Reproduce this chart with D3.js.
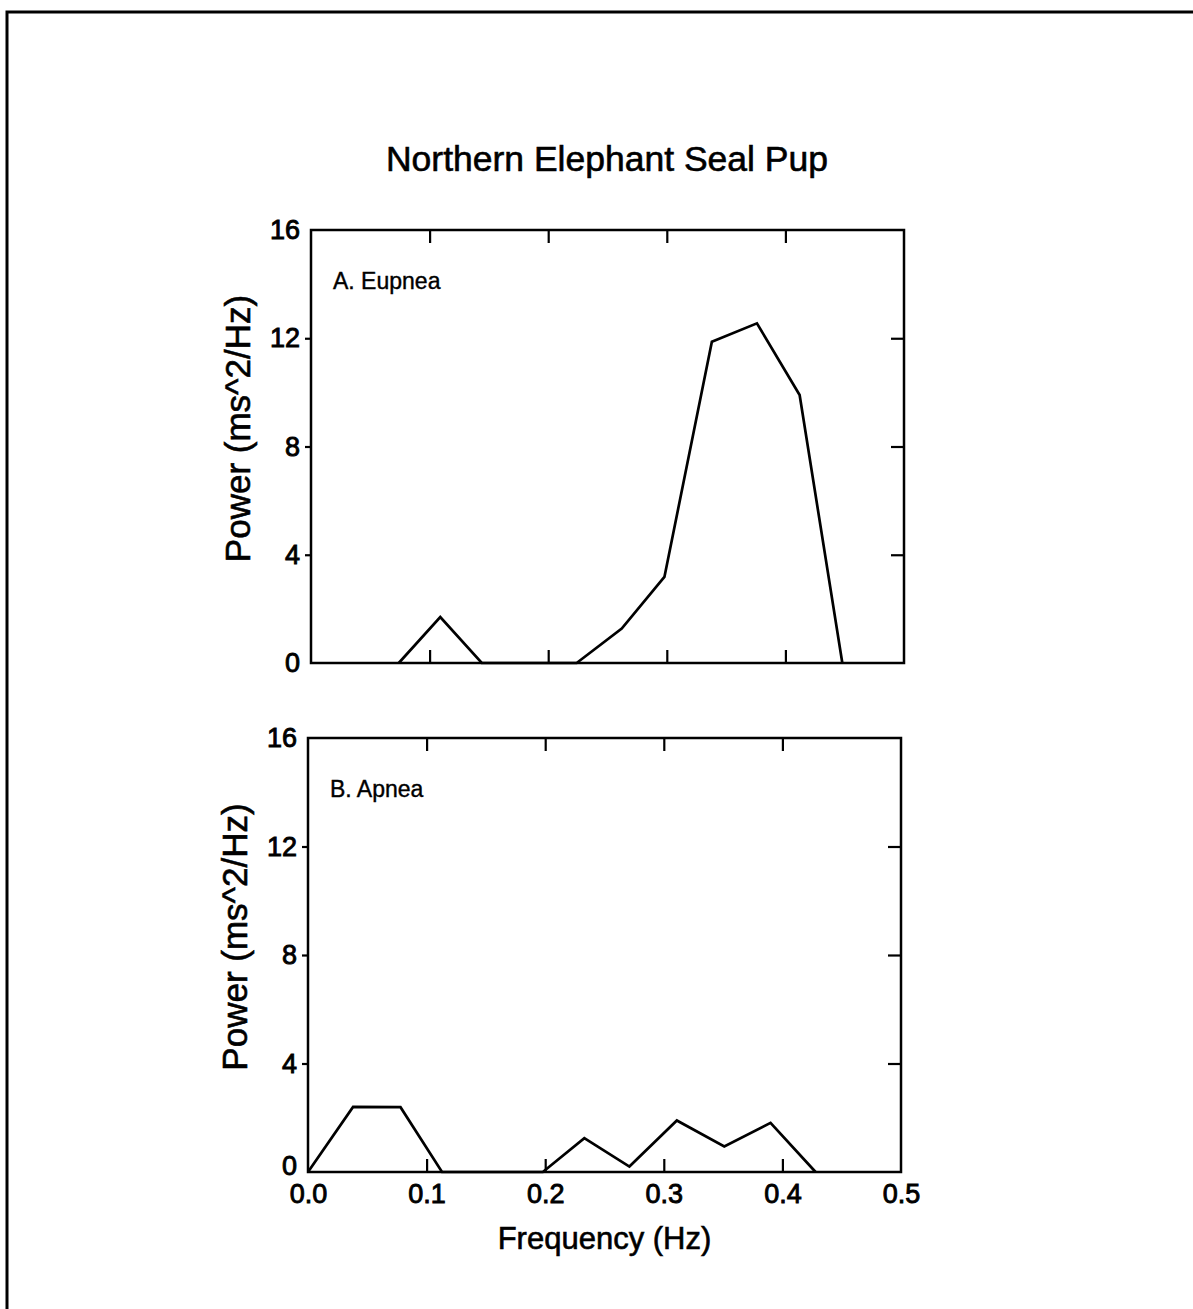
<!DOCTYPE html>
<html>
<head>
<meta charset="utf-8">
<script src="https://cdn.jsdelivr.net/npm/d3@7"></script>
<style>
  html, body { margin: 0; padding: 0; background: #fff; }
  svg { display: block; }
  text { font-family: "Liberation Sans", Arial, sans-serif; fill: #000; stroke: #000; stroke-width: 0.6px; }
</style>
</head>
<body>
<svg id="chart" width="1193" height="1309"></svg>
<script>
// Heart-rate variability power spectra, northern elephant seal pup
const chartTitle = "Northern Elephant Seal Pup";
const xLabel = "Frequency (Hz)";
const yLabel = "Power (ms^2/Hz)";

// Panel A: eupnea spectrum
const eupneaFreq  = [0.074, 0.109, 0.144, 0.224, 0.262, 0.298, 0.338, 0.376, 0.412, 0.448];
const eupneaPower = [0.0,   1.70,  0.0,   0.0,   1.27,  3.18,  11.87, 12.55, 9.90,  0.0];

// Panel B: apnea spectrum
const apneaFreq  = [0.0, 0.038, 0.078, 0.113, 0.198, 0.233, 0.271, 0.311, 0.351, 0.390, 0.428];
const apneaPower = [0.0, 2.40,  2.39,  0.0,   0.0,   1.25,  0.20,  1.90,  0.94,  1.81,  0.0];

const xTicks = [0.0, 0.1, 0.2, 0.3, 0.4, 0.5];
const yTicks = [0, 4, 8, 12, 16];

const panels = [
  { label: "A. Eupnea", freq: eupneaFreq, power: eupneaPower,
    left: 311, right: 904, top: 230, bottom: 663, showX: false },
  { label: "B. Apnea", freq: apneaFreq, power: apneaPower,
    left: 308, right: 901, top: 738, bottom: 1172, showX: true }
];

const svg = d3.select("#chart");
svg.append("rect").attr("width", 1193).attr("height", 1309).attr("fill", "#fff");

// page frame (left and top edges)
svg.append("path")
  .attr("d", "M7,1309 L7,12 L1193,12")
  .attr("fill", "none").attr("stroke", "#000").attr("stroke-width", 3);

svg.append("text")
  .attr("x", 607).attr("y", 171)
  .attr("text-anchor", "middle")
  .attr("font-size", 35.5)
  .text(chartTitle);

panels.forEach(p => {
  const x = d3.scaleLinear().domain([0, 0.5]).range([p.left, p.right]);
  const y = d3.scaleLinear().domain([0, 16]).range([p.bottom, p.top]);
  const g = svg.append("g");
  const inner = xTicks.filter(t => t > 0 && t < 0.5);
  const innerY = yTicks.filter(t => t > 0 && t < 16);

  // inward ticks on top and bottom
  g.append("g").attr("transform", `translate(0,${p.top})`)
    .call(d3.axisBottom(x).tickValues(inner).tickSize(13).tickFormat(""))
    .call(a => a.select(".domain").remove());
  g.append("g").attr("transform", `translate(0,${p.bottom})`)
    .call(d3.axisTop(x).tickValues(inner).tickSize(13).tickFormat(""))
    .call(a => a.select(".domain").remove());
  // inward ticks on right
  g.append("g").attr("transform", `translate(${p.right},0)`)
    .call(d3.axisLeft(y).tickValues(innerY).tickSize(13).tickFormat(""))
    .call(a => a.select(".domain").remove());
  // left axis: labels plus short outward ticks
  const la = g.append("g").attr("transform", `translate(${p.left},0)`)
    .call(d3.axisLeft(y).tickValues(yTicks).tickSize(0).tickPadding(11).tickFormat(d3.format("d")));
  la.select(".domain").remove();
  la.selectAll(".tick text").attr("font-size", 27).attr("font-family", null)
    .style("stroke-width", "0.9px");
  if (p.showX) {
    // lift the zero label clear of the frequency labels below it
    la.selectAll(".tick").filter(d => d === 0).select("text").attr("dy", "0.1em");
  }
  g.append("g").attr("transform", `translate(${p.left},0)`)
    .call(d3.axisLeft(y).tickValues(innerY).tickSize(6).tickFormat(""))
    .call(a => a.select(".domain").remove());

  g.selectAll(".tick line").attr("stroke", "#000").attr("stroke-width", 2.2);

  if (p.showX) {
    const ba = g.append("g").attr("transform", `translate(0,${p.bottom})`)
      .call(d3.axisBottom(x).tickValues(xTicks).tickSize(0).tickPadding(12).tickFormat(d3.format(".1f")));
    ba.select(".domain").remove();
    ba.selectAll(".tick text").attr("font-size", 27).attr("font-family", null)
      .style("stroke-width", "0.9px");
    svg.append("text")
      .attr("x", (p.left + p.right) / 2).attr("y", p.bottom + 77)
      .attr("text-anchor", "middle").attr("font-size", 31)
      .text(xLabel);
  }

  // frame
  g.append("rect")
    .attr("x", p.left).attr("y", p.top)
    .attr("width", p.right - p.left).attr("height", p.bottom - p.top)
    .attr("fill", "none").attr("stroke", "#000").attr("stroke-width", 2.5);

  // y label
  svg.append("text")
    .attr("transform", `translate(${p.left - 61},${(p.top + p.bottom) / 2 - 18}) rotate(-90)`)
    .attr("text-anchor", "middle").attr("font-size", 35)
    .text(yLabel);

  // panel label
  svg.append("text")
    .attr("x", p.left + 22).attr("y", p.top + 59)
    .attr("font-size", 23)
    .style("stroke-width", "0.4px")
    .text(p.label);

  // spectrum line
  const line = d3.line().x(d => x(d[0])).y(d => y(d[1]));
  g.append("path")
    .datum(p.freq.map((f, i) => [f, p.power[i]]))
    .attr("d", line)
    .attr("fill", "none").attr("stroke", "#000")
    .attr("stroke-width", 2.7).attr("stroke-linejoin", "miter");
});
</script>
</body>
</html>
